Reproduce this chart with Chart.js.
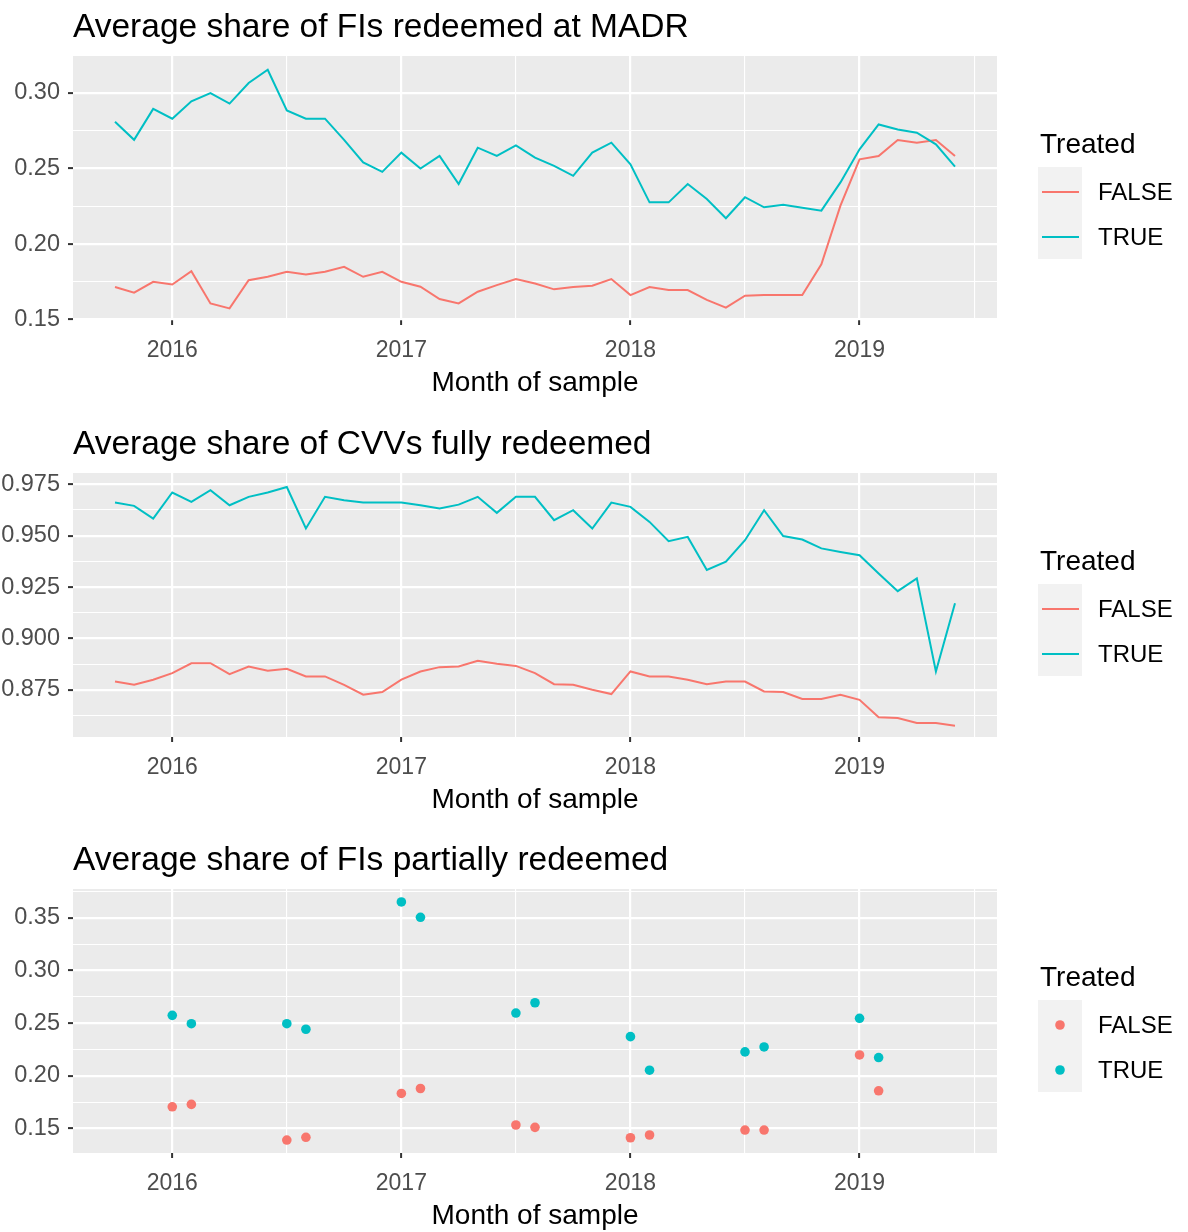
<!DOCTYPE html>
<html>
<head>
<meta charset="utf-8">
<title>Average shares by treatment</title>
<script src="https://cdn.jsdelivr.net/npm/chart.js@4.4.1/dist/chart.umd.min.js"></script>
<style>
  html, body { margin: 0; padding: 0; background: #fff; overflow: hidden; }
  .panel { position: absolute; left: 0; width: 1188px; height: 417px; }
</style>
</head>
<body>
<div class="panel" style="top:0"><canvas id="chartMadr" width="1188" height="417"></canvas></div>
<div class="panel" style="top:417px"><canvas id="chartCvv" width="1188" height="417"></canvas></div>
<div class="panel" style="top:833px"><canvas id="chartPartial" width="1188" height="417"></canvas></div>
<script>
// ---- data ----
const lineMonths = [
  '2015-10', '2015-11', '2015-12',
  '2016-01', '2016-02', '2016-03', '2016-04', '2016-05', '2016-06', '2016-07', '2016-08', '2016-09', '2016-10', '2016-11', '2016-12',
  '2017-01', '2017-02', '2017-03', '2017-04', '2017-05', '2017-06', '2017-07', '2017-08', '2017-09', '2017-10', '2017-11', '2017-12',
  '2018-01', '2018-02', '2018-03', '2018-04', '2018-05', '2018-06', '2018-07', '2018-08', '2018-09', '2018-10', '2018-11', '2018-12',
  '2019-01', '2019-02', '2019-03', '2019-04', '2019-05', '2019-06'
];

const madrFalse = [
  0.1715, 0.1678, 0.1750,
  0.1732, 0.1820, 0.1607, 0.1574, 0.1760, 0.1783, 0.1816, 0.1798, 0.1816, 0.1849, 0.1783, 0.1816,
  0.1750, 0.1717, 0.1636, 0.1607, 0.1684, 0.1728, 0.1768, 0.1739, 0.1700, 0.1715, 0.1724, 0.1768,
  0.1662, 0.1715, 0.1695, 0.1695, 0.1630, 0.1579, 0.1658, 0.1662, 0.1662, 0.1662, 0.1866, 0.2254,
  0.2561, 0.2583, 0.2689, 0.2671, 0.2689, 0.2583
];
const madrTrue = [
  0.2810, 0.2690, 0.2895,
  0.2830, 0.2945, 0.3000, 0.2930, 0.3066, 0.3154, 0.2884, 0.2830, 0.2830, 0.2690, 0.2540, 0.2478,
  0.2605, 0.2500, 0.2583, 0.2397, 0.2638, 0.2583, 0.2653, 0.2572, 0.2518, 0.2452, 0.2605, 0.2671,
  0.2528, 0.2276, 0.2276, 0.2397, 0.2298, 0.2171, 0.2310, 0.2243, 0.2260, 0.2240, 0.2221, 0.2408,
  0.2627, 0.2792, 0.2759, 0.2737, 0.2660, 0.2513
];

const cvvFalse = [
  0.8790, 0.8774, 0.8799,
  0.8831, 0.8879, 0.8879, 0.8826, 0.8863, 0.8842, 0.8852, 0.8815, 0.8815, 0.8774, 0.8726, 0.8739,
  0.8799, 0.8839, 0.8860, 0.8863, 0.8891, 0.8876, 0.8866, 0.8831, 0.8777, 0.8774, 0.8750, 0.8729,
  0.8839, 0.8815, 0.8815, 0.8799, 0.8777, 0.8790, 0.8790, 0.8742, 0.8739, 0.8705, 0.8705, 0.8726,
  0.8701, 0.8616, 0.8612, 0.8588, 0.8588, 0.8575
];
const cvvTrue = [
  0.9661, 0.9645, 0.9583,
  0.9710, 0.9664, 0.9721, 0.9648, 0.9689, 0.9710, 0.9737, 0.9535, 0.9689, 0.9672, 0.9661, 0.9661,
  0.9661, 0.9648, 0.9632, 0.9651, 0.9689, 0.9611, 0.9689, 0.9689, 0.9575, 0.9624, 0.9535, 0.9661,
  0.9640, 0.9567, 0.9473, 0.9494, 0.9333, 0.9373, 0.9478, 0.9624, 0.9498, 0.9481, 0.9438, 0.9421,
  0.9405, 0.9316, 0.9230, 0.9292, 0.8839, 0.9171
];

const partialMonths = [
  '2016-01', '2016-02', '2016-07', '2016-08', '2017-01', '2017-02', '2017-07',
  '2017-08', '2018-01', '2018-02', '2018-07', '2018-08', '2019-01', '2019-02'
];
const partialFalse = [0.1705, 0.1728, 0.1389, 0.1415, 0.1832, 0.1879, 0.1532, 0.1510, 0.1411, 0.1437, 0.1484, 0.1484, 0.2198, 0.1857];
const partialTrue = [0.2574, 0.2495, 0.2495, 0.2442, 0.3652, 0.3506, 0.2596, 0.2694, 0.2372, 0.2053, 0.2227, 0.2274, 0.2546, 0.2173];

const yearTicks = [2016, 2017, 2018, 2019];
const madrTicks = [0.15, 0.20, 0.25, 0.30];
const cvvTicks = [0.875, 0.900, 0.925, 0.950, 0.975];
const partialTicks = [0.15, 0.20, 0.25, 0.30, 0.35];

const groups = ['FALSE', 'TRUE'];
const groupColors = ['#F8766D', '#00BFC4'];

// ---- helpers ----
const FONT = '"Liberation Sans", Arial, Helvetica, sans-serif';

function monthIndex(s) {
  const [y, m] = s.split('-').map(Number);
  return (y - 2016) * 12 + (m - 1);
}

function toPoints(months, values) {
  return months.map((m, i) => ({ x: monthIndex(m), y: values[i] }));
}

// majors plus ggplot-style minor breaks halfway between them
function withMinors(majors, min, max) {
  const step = majors[1] - majors[0];
  const all = [];
  for (let i = -1; i < majors.length; i++) {
    const base = i < 0 ? majors[0] - step : majors[i];
    if (i >= 0) all.push({ value: base, major: true });
    all.push({ value: base + step / 2, major: false });
  }
  return all.filter(t => t.value >= min - 1e-9 && t.value <= max + 1e-9);
}

const xIdx = lineMonths.map(monthIndex);
const xSpan = Math.max(...xIdx) - Math.min(...xIdx);
const X_MIN = Math.min(...xIdx) - xSpan * 0.05;
const X_MAX = Math.max(...xIdx) + xSpan * 0.05;
const xMajors = yearTicks.map(y => (y - 2016) * 12);

function gridOpts(ticksRef) {
  return {
    drawTicks: true,
    tickLength: 5,
    color: '#FFFFFF',
    lineWidth: c => (ticksRef()[c.index] && ticksRef()[c.index].major ? 2.2 : 1.1),
    tickColor: c => (ticksRef()[c.index] && ticksRef()[c.index].major ? '#333333' : 'rgba(0,0,0,0)'),
    tickWidth: 2
  };
}

// background panel, title and legend drawn around the chart area
const panelDecor = {
  id: 'panelDecor',
  beforeDraw(chart) {
    const { ctx, chartArea: a } = chart;
    ctx.save();
    ctx.fillStyle = '#EBEBEB';
    ctx.fillRect(a.left, a.top, a.right - a.left, a.bottom - a.top);
    ctx.restore();
  },
  afterDraw(chart, args, opts) {
    const { ctx, chartArea: a } = chart;
    ctx.save();
    ctx.textBaseline = 'middle';
    ctx.textAlign = 'left';
    ctx.fillStyle = '#000000';
    ctx.font = `33.5px ${FONT}`;
    ctx.fillText(opts.title, a.left, a.top - 28);

    const lx = a.right + 41;
    ctx.font = `28px ${FONT}`;
    ctx.fillText('Treated', a.right + 43, a.top + 89);
    ctx.fillStyle = '#F2F2F2';
    ctx.fillRect(lx, a.top + 111, 44, 92);

    groups.forEach((g, i) => {
      const y = a.top + 136 + i * 45;
      if (opts.keyType === 'point') {
        ctx.fillStyle = groupColors[i];
        ctx.beginPath();
        ctx.arc(lx + 22, y, 4.8, 0, Math.PI * 2);
        ctx.fill();
      } else {
        ctx.strokeStyle = groupColors[i];
        ctx.lineWidth = 2;
        ctx.beginPath();
        ctx.moveTo(lx + 4, y);
        ctx.lineTo(lx + 41, y);
        ctx.stroke();
      }
      ctx.fillStyle = '#000000';
      ctx.font = `24px ${FONT}`;
      ctx.fillText(g, a.right + 101, y + 1);
    });
    ctx.restore();
  }
};

function buildChart(canvasId, cfg) {
  let xTicks = [];
  let yTicks = [];
  const isLine = cfg.kind === 'line';

  const datasets = cfg.series.map((values, i) => ({
    label: groups[i],
    data: toPoints(cfg.months, values),
    borderColor: groupColors[i],
    backgroundColor: groupColors[i],
    borderWidth: isLine ? 2 : 0,
    pointRadius: isLine ? 0 : 4.8,
    pointHoverRadius: isLine ? 0 : 4.8,
    showLine: isLine,
    tension: 0,
    order: groups.length - i
  }));

  return new Chart(document.getElementById(canvasId), {
    type: isLine ? 'line' : 'scatter',
    data: { datasets },
    plugins: [panelDecor],
    options: {
      responsive: false,
      animation: false,
      devicePixelRatio: 1,
      layout: { padding: { top: 56, right: 191, bottom: 0, left: 0 } },
      plugins: {
        legend: { display: false },
        tooltip: { enabled: false },
        panelDecor: { title: cfg.title, keyType: isLine ? 'line' : 'point' }
      },
      scales: {
        x: {
          type: 'linear',
          min: X_MIN,
          max: X_MAX,
          border: { display: false },
          grid: gridOpts(() => xTicks),
          afterBuildTicks: axis => {
            xTicks = withMinors(xMajors, X_MIN, X_MAX);
            axis.ticks = xTicks.map(t => ({ value: t.value }));
          },
          afterFit: axis => { axis.height = 97; },
          ticks: {
            autoSkip: false,
            maxRotation: 0,
            padding: 12,
            color: '#4D4D4D',
            font: { family: FONT, size: 23 },
            callback: (v, i) => (xTicks[i] && xTicks[i].major ? String(2016 + v / 12) : '')
          },
          title: {
            display: true,
            text: 'Month of sample',
            color: '#000000',
            font: { family: FONT, size: 28 },
            padding: { top: 0, bottom: 17 }
          }
        },
        y: {
          type: 'linear',
          min: cfg.yMin,
          max: cfg.yMax,
          border: { display: false },
          grid: gridOpts(() => yTicks),
          afterBuildTicks: axis => {
            yTicks = withMinors(cfg.yTicks, cfg.yMin, cfg.yMax);
            axis.ticks = yTicks.map(t => ({ value: t.value }));
          },
          afterFit: axis => { axis.width = 73; },
          ticks: {
            autoSkip: false,
            padding: 8,
            color: '#4D4D4D',
            font: { family: FONT, size: 23.5 },
            callback: (v, i) => (yTicks[i] && yTicks[i].major ? v.toFixed(cfg.decimals) : '')
          }
        }
      }
    }
  });
}

buildChart('chartMadr', {
  kind: 'line',
  title: 'Average share of FIs redeemed at MADR',
  months: lineMonths,
  series: [madrFalse, madrTrue],
  yTicks: madrTicks,
  yMin: 0.1497,
  yMax: 0.3245,
  decimals: 2
});

buildChart('chartCvv', {
  kind: 'line',
  title: 'Average share of CVVs fully redeemed',
  months: lineMonths,
  series: [cvvFalse, cvvTrue],
  yTicks: cvvTicks,
  yMin: 0.852,
  yMax: 0.9805,
  decimals: 3
});

buildChart('chartPartial', {
  kind: 'point',
  title: 'Average share of FIs partially redeemed',
  months: partialMonths,
  series: [partialFalse, partialTrue],
  yTicks: partialTicks,
  yMin: 0.1266,
  yMax: 0.3775,
  decimals: 2
});
</script>
</body>
</html>
